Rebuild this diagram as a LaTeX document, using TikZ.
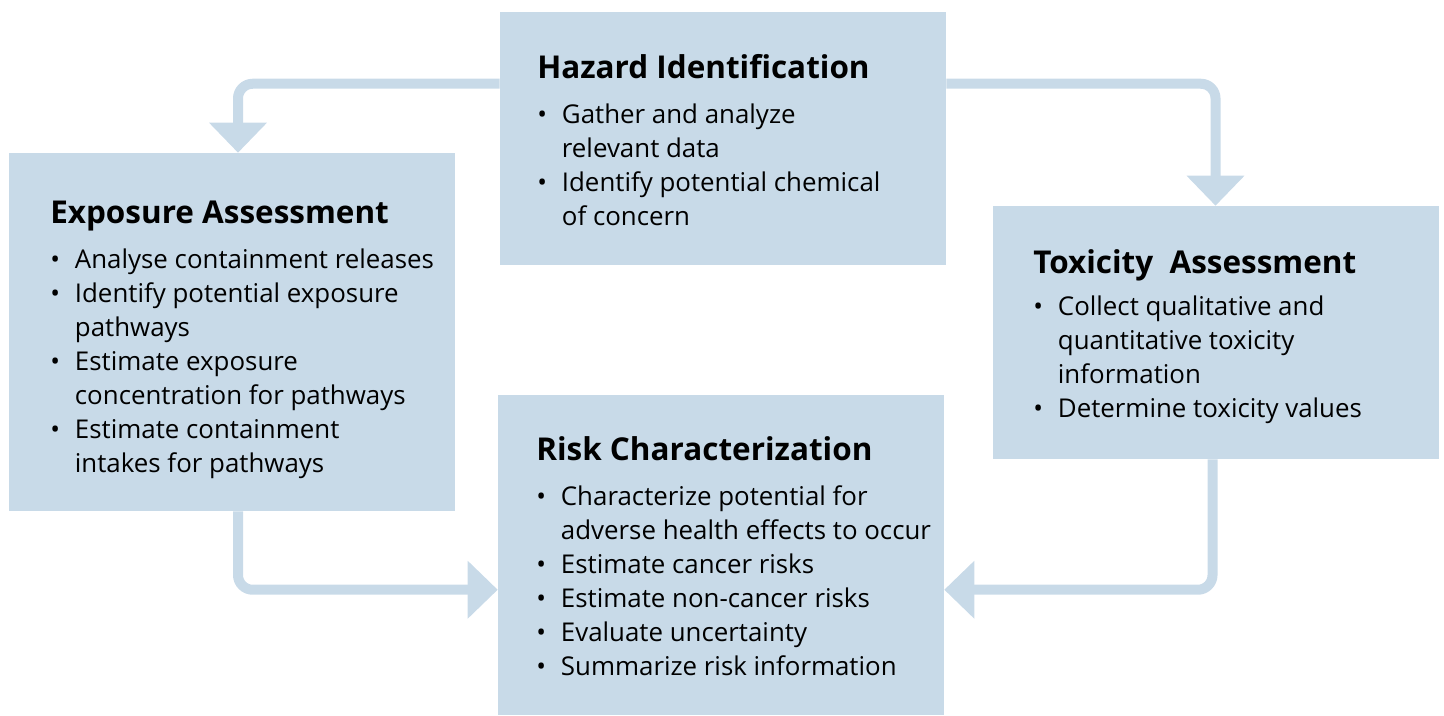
\documentclass[tikz,border=0pt]{standalone}
\usepackage{fontspec}
\setmainfont{Open Sans}
\usepackage{tikz}
\usetikzlibrary{arrows.meta,positioning,calc}
\definecolor{paleblue}{HTML}{C8DAE8}
\newcommand{\itm}{\makebox[18.5pt][l]{\textbullet}}
\newcommand{\cnt}{\hspace*{18.5pt}}
\newcommand{\ttl}[1]{{\fontsize{23.6}{25.5}\selectfont\bfseries #1}}
\tikzset{
    stage/.style={
        rectangle,
        fill=paleblue,
        inner sep=0pt,
        minimum width=334.5pt
    },
    % anchored at the baseline of the last line
    stagetext/.style={
        anchor=base west,
        align=left,
        inner sep=0pt,
        font=\fontsize{19.4}{25.5}\selectfont
    },
    flow/.style={
        draw=paleblue,
        line width=7.5pt,
        rounded corners=11pt,
        -{Triangle[width=42pt,length=22.5pt]},
        paleblue
    }
}

\begin{document}
\begin{tikzpicture}[x=0.75pt, y=-0.75pt]
    \useasboundingbox (0,0) rectangle (1444,715);
    % the four stages
    \node[stage, minimum height=189.75pt] (haz) at (723,138.5) {};
    \node[stage, minimum height=268.5pt] (expo) at (232,332) {};
    \node[stage, minimum height=189.75pt] (tox) at (1215.5,332.5) {};
    \node[stage, minimum height=240pt] (risk) at (721,555) {};
    % texts
    \node[stagetext] (hazt) at (537,225)
        {\ttl{Hazard Identification}\\[8pt]
         \itm Gather and analyze\\ \cnt relevant data\\
         \itm Identify potential chemical\\ \cnt of concern};
    \node[stagetext] (expot) at (50,472)
        {\ttl{Exposure Assessment}\\[8pt]
         \itm Analyse containment releases\\
         \itm Identify potential exposure\\ \cnt pathways\\
         \itm Estimate exposure\\ \cnt concentration for pathways\\
         \itm Estimate containment\\ \cnt intakes for pathways};
    \node[stagetext] (toxt) at (1033,417)
        {\ttl{Toxicity\ \ Assessment}\\[6pt]
         \itm Collect qualitative and\\ \cnt quantitative toxicity\\ \cnt information\\
         \itm Determine toxicity values};
    \node[stagetext] (riskt) at (536,675)
        {\ttl{Risk Characterization}\\[8pt]
         \itm Characterize potential for\\ \cnt adverse health effects to occur\\
         \itm Estimate cancer risks\\
         \itm Estimate non-cancer risks\\
         \itm Evaluate uncertainty\\
         \itm Summarize risk information};
    % connectors
    \draw[flow] ([shift={(0,72)}]haz.north west) -| ([shift={(6,0)}]expo.north);
    \draw[flow] ([shift={(0,72)}]haz.north east) -| (tox.north);
    \draw[flow] ([shift={(6,0)}]expo.south) |- ([shift={(0,195)}]risk.north west);
    \draw[flow] ([shift={(-3,0)}]tox.south) |- ([shift={(0,195)}]risk.north east);
\end{tikzpicture}
\end{document}
